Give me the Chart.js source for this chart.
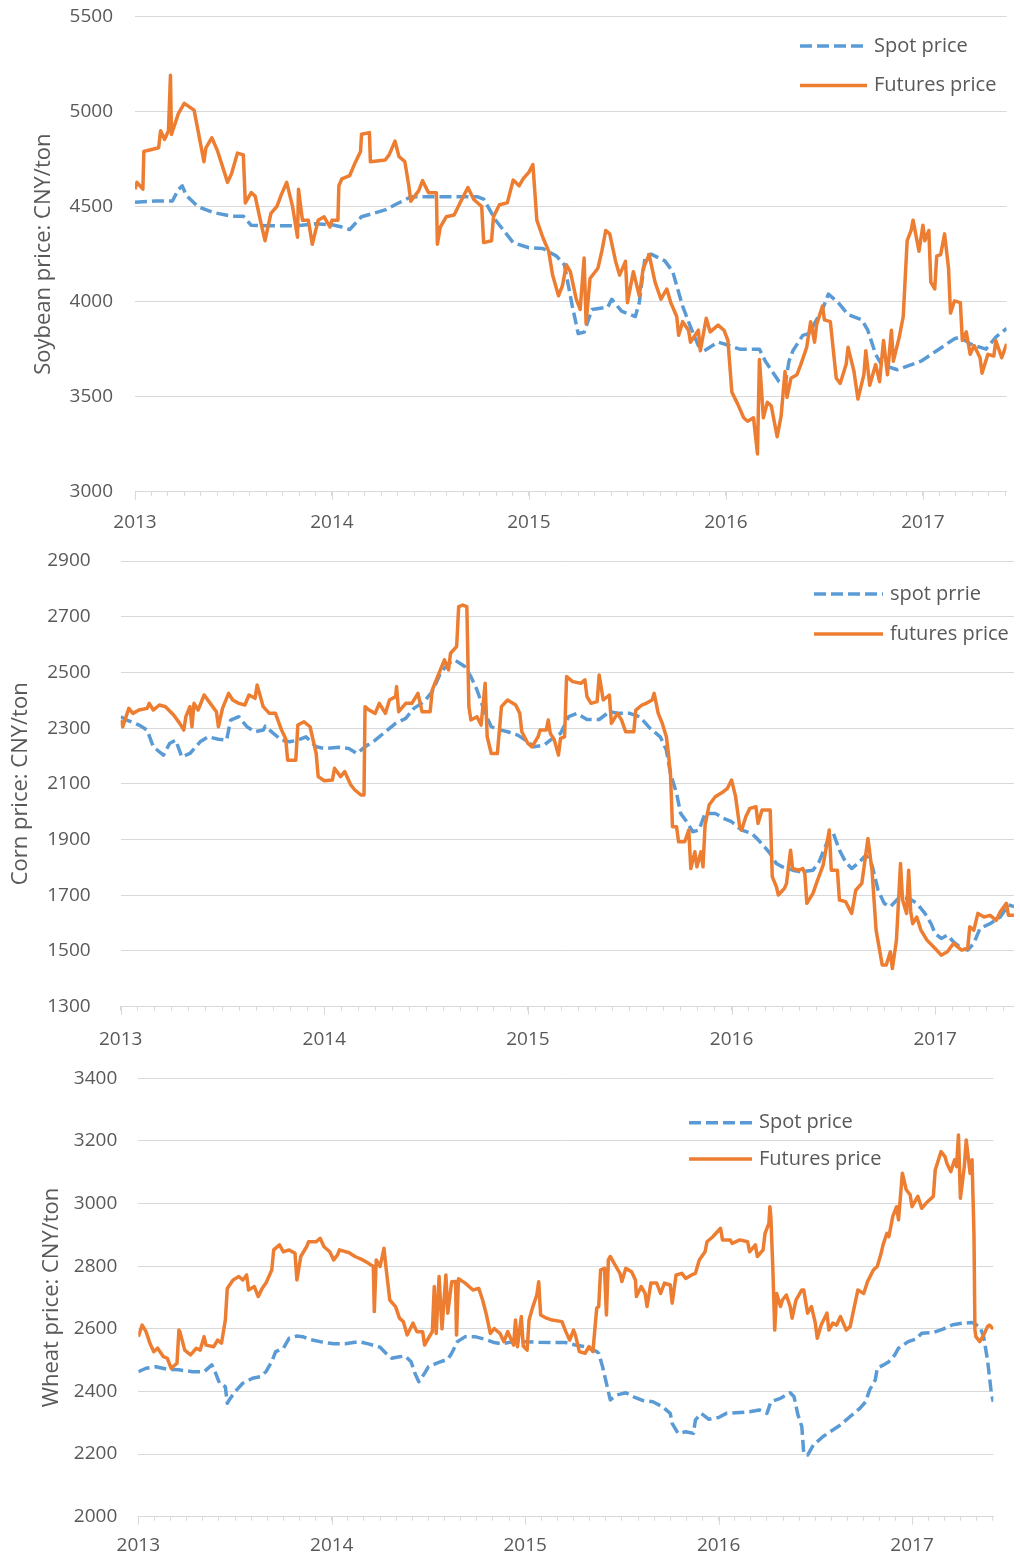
<!DOCTYPE html>
<html>
<head>
<meta charset="utf-8">
<script src="https://cdn.jsdelivr.net/npm/chart.js@4.4.0/dist/chart.umd.min.js"></script>
<style>
    html, body { margin: 0; padding: 0; background: #ffffff; }
    body { width: 1020px; height: 1555px; position: relative; overflow: hidden; }
    canvas { position: absolute; left: 0; }
</style>
</head>
<body>
<canvas id="soyChart" width="1020" height="540" style="top:0px"></canvas>
<canvas id="cornChart" width="1020" height="520" style="top:540px"></canvas>
<canvas id="wheatChart" width="1020" height="495" style="top:1060px"></canvas>
<script>
const textColor = '#595959';
const gridColor = '#d9d9d9';
const spotColor = '#5B9BD5';
const futuresColor = '#ED7D31';
const fontFamily = "'Open Sans', 'DejaVu Sans', sans-serif";

// x axis: one tick per month, year labels at January
const yearLabels = ['2013', '2014', '2015', '2016', '2017'];

// y axis tick values
const soyYTicks = [3000, 3500, 4000, 4500, 5000, 5500];
const cornYTicks = [1300, 1500, 1700, 1900, 2100, 2300, 2500, 2700, 2900];
const wheatYTicks = [2000, 2200, 2400, 2600, 2800, 3000, 3200, 3400];

// ---- Soybean ----
const soySpotT = [2013.00, 2013.10, 2013.19, 2013.22, 2013.24, 2013.26, 2013.29, 2013.32, 2013.40, 2013.49,
    2013.55, 2013.59, 2013.65, 2013.82, 2013.92, 2014.00, 2014.05, 2014.09, 2014.15, 2014.27,
    2014.32, 2014.40, 2014.74, 2014.77, 2014.83, 2014.92, 2015.00, 2015.07, 2015.14, 2015.18,
    2015.22, 2015.25, 2015.28, 2015.32, 2015.40, 2015.42, 2015.47, 2015.54, 2015.56, 2015.59,
    2015.62, 2015.69, 2015.73, 2015.75, 2015.78, 2015.82, 2015.86, 2015.89, 2015.96, 2015.99,
    2016.07, 2016.17, 2016.20, 2016.27, 2016.30, 2016.32, 2016.34, 2016.39, 2016.42, 2016.49,
    2016.52, 2016.57, 2016.62, 2016.69, 2016.72, 2016.76, 2016.79, 2016.87, 2016.99, 2017.07,
    2017.16, 2017.19, 2017.24, 2017.32, 2017.37, 2017.425];
const soySpotV = [4523, 4530, 4530, 4590, 4610, 4560, 4530, 4500, 4469, 4450,
    4450, 4402, 4400, 4400, 4410, 4405, 4393, 4380, 4447, 4483,
    4510, 4552, 4552, 4540, 4430, 4311, 4284, 4280, 4240, 4194,
    3977, 3832, 3840, 3959, 3971, 4013, 3950, 3922, 3995, 4240,
    4250, 4215, 4158, 4085, 3977, 3868, 3769, 3742, 3787, 3778,
    3750, 3750, 3687, 3579, 3560, 3687, 3742, 3823, 3832, 3959,
    4040, 3995, 3932, 3904, 3850, 3723, 3669, 3642, 3687, 3742,
    3805, 3814, 3778, 3750, 3814, 3859];
const soyFutT = [2013.00, 2013.01, 2013.04, 2013.045, 2013.08, 2013.12, 2013.13, 2013.15, 2013.17, 2013.18,
    2013.185, 2013.22, 2013.25, 2013.30, 2013.32, 2013.35, 2013.36, 2013.39, 2013.42, 2013.47,
    2013.49, 2013.52, 2013.55, 2013.56, 2013.59, 2013.61, 2013.64, 2013.66, 2013.69, 2013.72,
    2013.74, 2013.77, 2013.80, 2013.825, 2013.83, 2013.85, 2013.88, 2013.90, 2013.93, 2013.96,
    2013.99, 2014.00, 2014.03, 2014.035, 2014.05, 2014.09, 2014.12, 2014.145, 2014.15, 2014.19,
    2014.195, 2014.27, 2014.29, 2014.32, 2014.34, 2014.37, 2014.39, 2014.40, 2014.44, 2014.46,
    2014.49, 2014.53, 2014.535, 2014.55, 2014.58, 2014.62, 2014.65, 2014.69, 2014.72, 2014.76,
    2014.77, 2014.81, 2014.82, 2014.85, 2014.89, 2014.92, 2014.95, 2014.97, 2015.00, 2015.02,
    2015.04, 2015.07, 2015.10, 2015.12, 2015.15, 2015.17, 2015.19, 2015.21, 2015.24, 2015.26,
    2015.28, 2015.29, 2015.31, 2015.35, 2015.37, 2015.39, 2015.41, 2015.44, 2015.46, 2015.49,
    2015.50, 2015.53, 2015.56, 2015.58, 2015.61, 2015.64, 2015.67, 2015.70, 2015.72, 2015.75,
    2015.76, 2015.78, 2015.81, 2015.82, 2015.86, 2015.87, 2015.90, 2015.92, 2015.96, 2015.99,
    2016.01, 2016.03, 2016.06, 2016.09, 2016.11, 2016.14, 2016.16, 2016.17, 2016.19, 2016.21,
    2016.23, 2016.26, 2016.28, 2016.30, 2016.31, 2016.33, 2016.36, 2016.38, 2016.41, 2016.43,
    2016.45, 2016.46, 2016.49, 2016.50, 2016.53, 2016.56, 2016.58, 2016.61, 2016.62, 2016.65,
    2016.67, 2016.70, 2016.71, 2016.73, 2016.76, 2016.78, 2016.80, 2016.82, 2016.84, 2016.85,
    2016.88, 2016.90, 2016.92, 2016.94, 2016.95, 2016.98, 2017.00, 2017.01, 2017.03, 2017.04,
    2017.06, 2017.07, 2017.09, 2017.11, 2017.13, 2017.14, 2017.16, 2017.19, 2017.20, 2017.22,
    2017.24, 2017.26, 2017.29, 2017.30, 2017.33, 2017.36, 2017.37, 2017.40, 2017.425];
const soyFutV = [4592, 4628, 4592, 4791, 4800, 4810, 4900, 4854, 4900, 5192,
    4880, 4990, 5044, 5008, 4900, 4737, 4810, 4863, 4791, 4628,
    4673, 4782, 4773, 4520, 4574, 4556, 4411, 4321, 4465, 4501,
    4556, 4628, 4500, 4339, 4592, 4429, 4429, 4302, 4429, 4447,
    4393, 4429, 4429, 4610, 4646, 4664, 4737, 4791, 4881, 4890,
    4737, 4746, 4773, 4845, 4764, 4737, 4610, 4529, 4583, 4637,
    4574, 4574, 4302, 4393, 4447, 4456, 4520, 4601, 4538, 4501,
    4311, 4321, 4447, 4510, 4520, 4640, 4610, 4646, 4682, 4722,
    4429, 4339, 4266, 4140, 4031, 4085, 4194, 4158, 4013, 3959,
    4230, 3886, 4122, 4176, 4266, 4375, 4357, 4212, 4140, 4212,
    3995, 4158, 4031, 4176, 4248, 4103, 4013, 4067, 3995, 3922,
    3823, 3895, 3850, 3787, 3850, 3742, 3913, 3841, 3877, 3850,
    3796, 3524, 3461, 3389, 3371, 3389, 3199, 3696, 3389, 3470,
    3452, 3289, 3398, 3633, 3497, 3597, 3615, 3669, 3760, 3895,
    3787, 3877, 3977, 3904, 3895, 3597, 3570, 3669, 3760, 3633,
    3488, 3615, 3742, 3560, 3669, 3579, 3796, 3615, 3850, 3687,
    3814, 3922, 4321, 4375, 4429, 4266, 4402, 4321, 4375, 4103,
    4067, 4240, 4248, 4357, 4176, 3940, 4004, 3995, 3796, 3841,
    3723, 3769, 3705, 3624, 3723, 3714, 3796, 3705, 3778];

// ---- Corn ----
const cornSpotT = [2013.00, 2013.03, 2013.09, 2013.13, 2013.16, 2013.21, 2013.24, 2013.27, 2013.30, 2013.34,
    2013.39, 2013.43, 2013.48, 2013.52, 2013.54, 2013.58, 2013.62, 2013.66, 2013.70, 2013.71,
    2013.75, 2013.79, 2013.83, 2013.87, 2013.91, 2013.96, 2014.00, 2014.07, 2014.12, 2014.16,
    2014.20, 2014.25, 2014.30, 2014.35, 2014.40, 2014.44, 2014.49, 2014.53, 2014.57, 2014.61,
    2014.64, 2014.69, 2014.72, 2014.75, 2014.79, 2014.82, 2014.85, 2014.90, 2014.95, 2015.00,
    2015.03, 2015.08, 2015.11, 2015.16, 2015.20, 2015.24, 2015.29, 2015.35, 2015.40, 2015.45,
    2015.50, 2015.55, 2015.60, 2015.65, 2015.68, 2015.70, 2015.73, 2015.75, 2015.78, 2015.81,
    2015.84, 2015.87, 2015.92, 2015.96, 2016.00, 2016.05, 2016.10, 2016.14, 2016.19, 2016.22,
    2016.25, 2016.30, 2016.34, 2016.40, 2016.43, 2016.46, 2016.48, 2016.50, 2016.53, 2016.56,
    2016.59, 2016.62, 2016.66, 2016.69, 2016.72, 2016.75, 2016.78, 2016.82, 2016.87, 2016.91,
    2016.95, 2016.98, 2017.00, 2017.03, 2017.06, 2017.09, 2017.13, 2017.16, 2017.19, 2017.22,
    2017.27, 2017.32, 2017.36, 2017.39];
const cornSpotV = [2341, 2329, 2311, 2293, 2233, 2203, 2245, 2257, 2197, 2209,
    2251, 2269, 2260, 2257, 2329, 2341, 2305, 2287, 2293, 2307,
    2281, 2257, 2251, 2257, 2269, 2233, 2227, 2231, 2227, 2209,
    2233, 2257, 2287, 2317, 2335, 2371, 2395, 2431, 2497, 2533,
    2545, 2521, 2485, 2437, 2353, 2305, 2296, 2287, 2275, 2251,
    2233, 2239, 2257, 2281, 2341, 2353, 2331, 2331, 2359, 2353,
    2353, 2341, 2299, 2269, 2221, 2137, 2066, 1994, 1964, 1928,
    1934, 1994, 1994, 1976, 1964, 1934, 1922, 1892, 1850, 1814,
    1802, 1790, 1784, 1790, 1820, 1874, 1910, 1922, 1862, 1820,
    1796, 1814, 1844, 1808, 1718, 1671, 1659, 1689, 1689, 1671,
    1635, 1598, 1563, 1545, 1557, 1533, 1509, 1503, 1527, 1581,
    1598, 1622, 1665, 1659];
const cornFutT = [2013.00, 2013.01, 2013.04, 2013.06, 2013.09, 2013.13, 2013.14, 2013.16, 2013.19, 2013.22,
    2013.26, 2013.29, 2013.31, 2013.32, 2013.34, 2013.35, 2013.36, 2013.38, 2013.41, 2013.44,
    2013.47, 2013.48, 2013.50, 2013.53, 2013.55, 2013.58, 2013.61, 2013.63, 2013.66, 2013.67,
    2013.70, 2013.73, 2013.76, 2013.79, 2013.81, 2013.82, 2013.86, 2013.87, 2013.90, 2013.93,
    2013.96, 2013.97, 2014.00, 2014.04, 2014.05, 2014.08, 2014.10, 2014.13, 2014.15, 2014.18,
    2014.195, 2014.20, 2014.22, 2014.25, 2014.27, 2014.30, 2014.32, 2014.35, 2014.355, 2014.365,
    2014.40, 2014.43, 2014.46, 2014.48, 2014.52, 2014.53, 2014.57, 2014.59, 2014.61, 2014.62,
    2014.65, 2014.66, 2014.68, 2014.70, 2014.71, 2014.72, 2014.75, 2014.77, 2014.79, 2014.80,
    2014.82, 2014.85, 2014.87, 2014.90, 2014.94, 2014.96, 2014.97, 2015.00, 2015.02, 2015.05,
    2015.06, 2015.09, 2015.10, 2015.11, 2015.13, 2015.15, 2015.16, 2015.18, 2015.19, 2015.22,
    2015.26, 2015.28, 2015.29, 2015.31, 2015.34, 2015.35, 2015.37, 2015.40, 2015.41, 2015.44,
    2015.46, 2015.48, 2015.52, 2015.53, 2015.56, 2015.58, 2015.61, 2015.62, 2015.64, 2015.66,
    2015.68, 2015.69, 2015.70, 2015.71, 2015.73, 2015.74, 2015.77, 2015.79, 2015.80, 2015.82,
    2015.83, 2015.85, 2015.86, 2015.87, 2015.89, 2015.92, 2015.96, 2015.98, 2016.00, 2016.02,
    2016.04, 2016.05, 2016.07, 2016.09, 2016.12, 2016.13, 2016.15, 2016.19, 2016.20, 2016.22,
    2016.23, 2016.26, 2016.27, 2016.29, 2016.30, 2016.33, 2016.35, 2016.36, 2016.37, 2016.40,
    2016.42, 2016.45, 2016.48, 2016.49, 2016.52, 2016.53, 2016.56, 2016.59, 2016.61, 2016.64,
    2016.66, 2016.67, 2016.69, 2016.71, 2016.74, 2016.76, 2016.78, 2016.79, 2016.81, 2016.83,
    2016.84, 2016.86, 2016.87, 2016.88, 2016.89, 2016.91, 2016.93, 2016.96, 2017.00, 2017.03,
    2017.06, 2017.09, 2017.13, 2017.16, 2017.17, 2017.19, 2017.21, 2017.24, 2017.27, 2017.30,
    2017.32, 2017.35, 2017.36, 2017.39];
const cornFutV = [2329, 2305, 2371, 2353, 2365, 2371, 2389, 2365, 2383, 2377,
    2347, 2317, 2293, 2341, 2377, 2305, 2389, 2365, 2419, 2389,
    2359, 2305, 2371, 2425, 2401, 2389, 2383, 2419, 2407, 2455,
    2377, 2353, 2353, 2293, 2263, 2185, 2185, 2311, 2323, 2305,
    2209, 2126, 2111, 2114, 2156, 2126, 2144, 2096, 2078, 2060,
    2060, 2377, 2365, 2353, 2389, 2353, 2401, 2413, 2449, 2359,
    2389, 2389, 2425, 2359, 2359, 2437, 2509, 2545, 2509, 2569,
    2593, 2736, 2742, 2736, 2377, 2329, 2341, 2311, 2461, 2269,
    2209, 2209, 2377, 2401, 2383, 2353, 2287, 2245, 2233, 2269,
    2293, 2293, 2329, 2281, 2257, 2203, 2263, 2269, 2485, 2467,
    2461, 2473, 2413, 2389, 2395, 2491, 2401, 2419, 2317, 2353,
    2329, 2287, 2287, 2365, 2383, 2389, 2401, 2425, 2353, 2317,
    2269, 2209, 2137, 1946, 1946, 1892, 1892, 1934, 1796, 1856,
    1802, 1856, 1802, 1952, 2024, 2054, 2072, 2084, 2114, 2054,
    1946, 1934, 1982, 2012, 2018, 1958, 2006, 2006, 1767, 1731,
    1701, 1725, 1743, 1862, 1796, 1790, 1796, 1778, 1671, 1707,
    1749, 1808, 1934, 1790, 1790, 1683, 1677, 1635, 1718, 1743,
    1850, 1904, 1790, 1575, 1450, 1450, 1497, 1437, 1539, 1814,
    1683, 1635, 1790, 1641, 1598, 1622, 1575, 1539, 1509, 1485,
    1497, 1527, 1503, 1509, 1587, 1575, 1635, 1622, 1628, 1610,
    1641, 1671, 1628, 1628];

// ---- Wheat ----
const wheatSpotT = [2013.00, 2013.04, 2013.09, 2013.15, 2013.21, 2013.28, 2013.34, 2013.38, 2013.40, 2013.42,
    2013.45, 2013.46, 2013.47, 2013.50, 2013.54, 2013.59, 2013.63, 2013.66, 2013.69, 2013.71,
    2013.75, 2013.78, 2013.82, 2013.85, 2013.88, 2013.94, 2014.01, 2014.07, 2014.14, 2014.19,
    2014.25, 2014.28, 2014.31, 2014.35, 2014.38, 2014.41, 2014.43, 2014.45, 2014.48, 2014.50,
    2014.55, 2014.60, 2014.62, 2014.65, 2014.69, 2014.74, 2014.79, 2014.84, 2014.88, 2014.94,
    2015.00, 2015.07, 2015.14, 2015.21, 2015.26, 2015.31, 2015.37, 2015.38, 2015.40, 2015.42,
    2015.44, 2015.47, 2015.52, 2015.56, 2015.61, 2015.66, 2015.71, 2015.75, 2015.76, 2015.79,
    2015.83, 2015.87, 2015.88, 2015.91, 2015.95, 2016.00, 2016.04, 2016.09, 2016.16, 2016.21,
    2016.25, 2016.27, 2016.32, 2016.37, 2016.39, 2016.41, 2016.43, 2016.44, 2016.46, 2016.49,
    2016.54, 2016.59, 2016.63, 2016.68, 2016.73, 2016.76, 2016.78, 2016.81, 2016.82, 2016.85,
    2016.88, 2016.91, 2016.93, 2016.98, 2017.02, 2017.05, 2017.11, 2017.16, 2017.21, 2017.26,
    2017.31, 2017.35, 2017.37, 2017.39, 2017.41, 2017.42];
const wheatSpotV = [2463, 2474, 2479, 2471, 2469, 2463, 2463, 2485, 2458, 2426,
    2415, 2362, 2373, 2399, 2426, 2442, 2447, 2463, 2495, 2527,
    2538, 2570, 2577, 2575, 2567, 2559, 2552, 2552, 2559, 2552,
    2541, 2522, 2506, 2511, 2513, 2495, 2458, 2431, 2458, 2479,
    2492, 2503, 2522, 2559, 2575, 2575, 2567, 2556, 2552, 2559,
    2559, 2557, 2556, 2556, 2548, 2543, 2527, 2522, 2479, 2426,
    2373, 2388, 2396, 2383, 2371, 2367, 2351, 2330, 2298, 2266,
    2271, 2266, 2309, 2330, 2311, 2317, 2330, 2332, 2335, 2341,
    2330, 2367, 2378, 2396, 2383, 2325, 2288, 2203, 2197, 2229,
    2256, 2277, 2293, 2320, 2346, 2367, 2404, 2437, 2474, 2484,
    2495, 2516, 2538, 2559, 2567, 2586, 2588, 2599, 2613, 2618,
    2620, 2607, 2575, 2501, 2394, 2367];
const wheatFutT = [2013.00, 2013.02, 2013.04, 2013.06, 2013.08, 2013.10, 2013.13, 2013.15, 2013.17, 2013.20,
    2013.21, 2013.215, 2013.24, 2013.27, 2013.30, 2013.32, 2013.34, 2013.35, 2013.39, 2013.41,
    2013.43, 2013.45, 2013.46, 2013.49, 2013.52, 2013.54, 2013.56, 2013.57, 2013.60, 2013.62,
    2013.64, 2013.66, 2013.69, 2013.70, 2013.73, 2013.75, 2013.78, 2013.81, 2013.82, 2013.84,
    2013.87, 2013.88, 2013.92, 2013.94, 2013.96, 2013.99, 2014.01, 2014.03, 2014.04, 2014.09,
    2014.12, 2014.16, 2014.19, 2014.215, 2014.22, 2014.23, 2014.25, 2014.27, 2014.28, 2014.30,
    2014.33, 2014.35, 2014.37, 2014.39, 2014.42, 2014.44, 2014.47, 2014.48, 2014.50, 2014.52,
    2014.53, 2014.54, 2014.555, 2014.57, 2014.59, 2014.60, 2014.62, 2014.64, 2014.645, 2014.655,
    2014.69, 2014.73, 2014.76, 2014.78, 2014.80, 2014.82, 2014.84, 2014.87, 2014.89, 2014.91,
    2014.94, 2014.95, 2014.96, 2014.98, 2014.99, 2015.01, 2015.02, 2015.04, 2015.06, 2015.07,
    2015.08, 2015.11, 2015.14, 2015.19, 2015.21, 2015.23, 2015.25, 2015.26, 2015.28, 2015.31,
    2015.33, 2015.35, 2015.37, 2015.38, 2015.39, 2015.41, 2015.42, 2015.43, 2015.44, 2015.46,
    2015.49, 2015.50, 2015.52, 2015.55, 2015.57, 2015.575, 2015.60, 2015.62, 2015.63, 2015.65,
    2015.68, 2015.70, 2015.72, 2015.75, 2015.76, 2015.78, 2015.81, 2015.83, 2015.86, 2015.88,
    2015.90, 2015.93, 2015.94, 2015.97, 2016.01, 2016.02, 2016.06, 2016.07, 2016.11, 2016.15,
    2016.16, 2016.19, 2016.20, 2016.23, 2016.24, 2016.26, 2016.265, 2016.27, 2016.28, 2016.29,
    2016.30, 2016.32, 2016.33, 2016.35, 2016.37, 2016.38, 2016.40, 2016.43, 2016.44, 2016.46,
    2016.48, 2016.50, 2016.51, 2016.53, 2016.56, 2016.57, 2016.59, 2016.61, 2016.63, 2016.66,
    2016.68, 2016.70, 2016.72, 2016.75, 2016.77, 2016.80, 2016.82, 2016.84, 2016.85, 2016.87,
    2016.88, 2016.90, 2016.92, 2016.93, 2016.95, 2016.97, 2016.99, 2017.00, 2017.03, 2017.05,
    2017.08, 2017.11, 2017.12, 2017.15, 2017.17, 2017.18, 2017.20, 2017.22, 2017.23, 2017.24,
    2017.25, 2017.27, 2017.28, 2017.30, 2017.31, 2017.32, 2017.325, 2017.33, 2017.35, 2017.37,
    2017.39, 2017.40, 2017.42];
const wheatFutV = [2575, 2612, 2591, 2554, 2527, 2538, 2511, 2506, 2474, 2490,
    2596, 2591, 2532, 2517, 2538, 2532, 2575, 2548, 2543, 2564,
    2554, 2628, 2729, 2756, 2767, 2756, 2772, 2724, 2735, 2703,
    2729, 2746, 2788, 2852, 2868, 2846, 2852, 2841, 2756, 2831,
    2862, 2878, 2878, 2889, 2862, 2846, 2820, 2836, 2852, 2843,
    2831, 2820, 2809, 2799, 2655, 2820, 2799, 2857, 2799, 2692,
    2671, 2634, 2623, 2580, 2618, 2591, 2591, 2548, 2570, 2591,
    2735, 2585, 2767, 2600, 2772, 2650, 2750, 2751, 2580, 2760,
    2746, 2724, 2729, 2692, 2644, 2585, 2601, 2585, 2559, 2591,
    2548, 2628, 2543, 2639, 2545, 2532, 2628, 2671, 2708, 2750,
    2644, 2634, 2628, 2623, 2591, 2564, 2596, 2580, 2527, 2522,
    2543, 2527, 2666, 2671, 2788, 2793, 2644, 2820, 2831, 2809,
    2777, 2751, 2793, 2782, 2756, 2703, 2735, 2713, 2671, 2746,
    2746, 2713, 2746, 2740, 2682, 2772, 2777, 2761, 2772, 2777,
    2820, 2846, 2878, 2894, 2921, 2884, 2884, 2873, 2884, 2878,
    2846, 2868, 2831, 2852, 2905, 2937, 2990, 2958, 2799, 2596,
    2713, 2671, 2692, 2708, 2671, 2634, 2692, 2724, 2724, 2650,
    2671, 2618, 2570, 2612, 2650, 2596, 2618, 2612, 2639, 2596,
    2607, 2666, 2724, 2713, 2751, 2788, 2799, 2841, 2868, 2905,
    2894, 2958, 2990, 2948, 3097, 3044, 3028, 2990, 3023, 2985,
    3006, 3023, 3108, 3166, 3150, 3129, 3102, 3140, 3118, 3219,
    3017, 3118, 3203, 3097, 3140, 2905, 2596, 2575, 2559, 2580,
    2607, 2612, 2599];

function pairs(ts, vs) {
    return ts.map((t, i) => ({ x: t, y: vs[i] }));
}

// Month ticks along the x axis
function monthTicks(scale) {
    const ticks = [];
    for (let m = 0; 2013 + m / 12 <= scale.max + 1e-6; m++) {
        ticks.push({ value: 2013 + m / 12 });
    }
    scale.ticks = ticks;
}

function yearLabel(value) {
    const r = Math.round(value);
    if (Math.abs(value - r) > 1e-6) return '';
    return yearLabels.includes(String(r)) ? String(r) : '';
}

// Legend drawn inside the plot, one row per dataset
const lineLegend = {
    id: 'lineLegend',
    afterDraw(chart, args, opts) {
        const ctx = chart.ctx;
        ctx.save();
        ctx.font = opts.fontSize + 'px ' + fontFamily;
        ctx.fillStyle = textColor;
        ctx.textBaseline = 'middle';
        chart.data.datasets.forEach((ds, i) => {
            const y = opts.y + i * opts.rowGap;
            ctx.strokeStyle = ds.borderColor;
            ctx.lineWidth = ds.borderWidth;
            ctx.setLineDash(ds.borderDash || []);
            ctx.beginPath();
            ctx.moveTo(opts.x, y);
            ctx.lineTo(opts.x + opts.lineLen, y);
            ctx.stroke();
            ctx.setLineDash([]);
            ctx.fillText(ds.label, opts.x + opts.lineLen + opts.gap, y);
        });
        ctx.restore();
    }
};

// Longer tick marks at the year boundaries
const yearTicks = {
    id: 'yearTicks',
    afterDraw(chart) {
        const ctx = chart.ctx;
        const xs = chart.scales.x;
        const bottom = chart.chartArea.bottom;
        ctx.save();
        ctx.strokeStyle = gridColor;
        ctx.lineWidth = 1;
        yearLabels.forEach(label => {
            const px = Math.round(xs.getPixelForValue(Number(label))) + 0.5;
            ctx.beginPath();
            ctx.moveTo(px, bottom);
            ctx.lineTo(px, bottom + 8);
            ctx.stroke();
        });
        ctx.restore();
    }
};

function makePanel(id, p) {
    return new Chart(document.getElementById(id), {
        type: 'line',
        data: {
            datasets: [{
                label: p.spotLabel,
                data: pairs(p.spotT, p.spotV),
                borderColor: spotColor,
                borderWidth: 3.5,
                borderDash: [12, 5],
                order: 1
            }, {
                label: p.futLabel,
                data: pairs(p.futT, p.futV),
                borderColor: futuresColor,
                borderWidth: 3.5,
                order: 0
            }]
        },
        options: {
            responsive: false,
            animation: false,
            layout: { padding: { top: p.top, right: p.padRight, left: 0, bottom: 0 } },
            elements: {
                point: { radius: 0 },
                line: { tension: 0, borderJoinStyle: 'round' }
            },
            plugins: {
                legend: { display: false },
                tooltip: { enabled: false },
                lineLegend: p.legend
            },
            scales: {
                x: {
                    type: 'linear',
                    min: 2013,
                    max: p.xMax,
                    afterBuildTicks: monthTicks,
                    afterFit: s => { s.height = p.xAxisH; },
                    grid: { drawOnChartArea: false, tickLength: 4, tickColor: gridColor },
                    border: { color: gridColor },
                    ticks: {
                        autoSkip: false, maxRotation: 0, minRotation: 0,
                        padding: p.xPad, color: textColor,
                        font: { family: fontFamily, size: 19 },
                        callback: yearLabel
                    }
                },
                y: {
                    min: p.yTicks[0],
                    max: p.yTicks[p.yTicks.length - 1],
                    afterBuildTicks: s => { s.ticks = p.yTicks.map(v => ({ value: v })); },
                    afterFit: s => {
                        s.width = p.left;
                        s.paddingTop = 0;
                        s.paddingBottom = 0;
                    },
                    grid: { color: gridColor, drawTicks: false },
                    border: { display: false },
                    ticks: {
                        padding: p.yPad, color: textColor,
                        font: { family: fontFamily, size: 19 },
                        callback: v => String(v)
                    },
                    title: {
                        display: true, text: p.yTitle, color: textColor,
                        font: { family: fontFamily, size: 22 },
                        padding: { top: p.titlePad, bottom: 0 }
                    }
                }
            }
        },
        plugins: [lineLegend, yearTicks]
    });
}

makePanel('soyChart', {
    spotLabel: 'Spot price', futLabel: 'Futures price',
    spotT: soySpotT, spotV: soySpotV, futT: soyFutT, futV: soyFutV,
    yTicks: soyYTicks, yTitle: 'Soybean price: CNY/ton',
    xMax: 2017.425, top: 16.7, padRight: 0, left: 135, xAxisH: 48.3,
    xPad: 15, yPad: 22, titlePad: 31,
    legend: { x: 800, y: 46, rowGap: 39.5, lineLen: 67, gap: 7, fontSize: 20 }
});

makePanel('cornChart', {
    spotLabel: 'spot prrie', futLabel: 'futures price',
    spotT: cornSpotT, spotV: cornSpotV, futT: cornFutT, futV: cornFutV,
    yTicks: cornYTicks, yTitle: 'Corn price: CNY/ton',
    xMax: 2017.387, top: 21, padRight: 0, left: 120.7, xAxisH: 53.3,
    xPad: 17, yPad: 30, titlePad: 7.5,
    legend: { x: 814, y: 54, rowGap: 40, lineLen: 69, gap: 7, fontSize: 20 }
});

makePanel('wheatChart', {
    spotLabel: 'Spot price', futLabel: 'Futures price',
    spotT: wheatSpotT, spotV: wheatSpotV, futT: wheatFutT, futV: wheatFutV,
    yTicks: wheatYTicks, yTitle: 'Wheat price: CNY/ton',
    xMax: 2017.42, top: 18.3, padRight: 26.7, left: 138.3, xAxisH: 38.3,
    xPad: 13, yPad: 21, titlePad: 39,
    legend: { x: 689, y: 62.7, rowGap: 36.3, lineLen: 63, gap: 7, fontSize: 20 }
});
</script>
</body>
</html>
